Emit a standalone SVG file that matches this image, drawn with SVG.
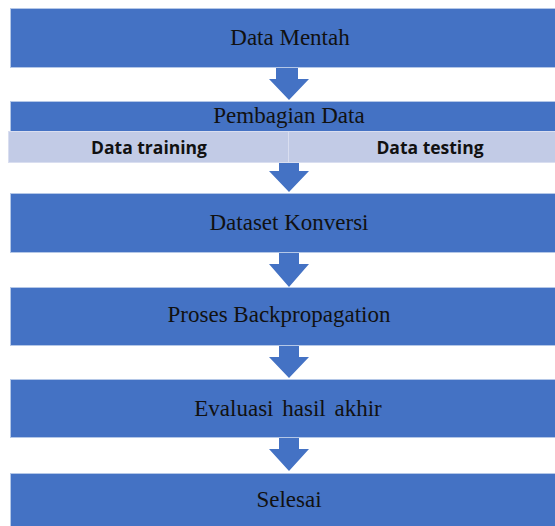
<svg xmlns="http://www.w3.org/2000/svg" width="555" height="526" viewBox="0 0 555 526">
<style>
.box{fill:#4472C4;stroke:#B4C7E7;stroke-width:1}
.sub{fill:#C2CBE6;stroke:#D9DEF0;stroke-width:1}
.t{font-family:"Liberation Serif",serif;font-size:23px;fill:#111;text-anchor:middle}
.b{font-family:"Open Sans","Liberation Sans",sans-serif;font-weight:bold;font-size:17.5px;fill:#111;text-anchor:middle}
.arr{fill:#4472C4}
</style>
<rect width="555" height="526" fill="#fff"/>
<g id="connectors">
<polygon class="arr" points="276,67 298,67 298,79 309,79 289,100 269,79 276,79"/>
<polygon class="arr" points="279,162 299,162 299,171 309,171 289,192 269,171 279,171"/>
<polygon class="arr" points="279,252 299,252 299,264 309,264 289,287 269,264 279,264"/>
<polygon class="arr" points="279,345 299,345 299,357 309,357 289,378 269,357 279,357"/>
<polygon class="arr" points="279,437 299,437 299,449 309,449 289,471 269,449 279,449"/>
</g>
<g id="n1"><rect class="box" x="10.5" y="8.5" width="546" height="59"/><text class="t" x="290" y="45">Data Mentah</text></g>
<g id="n2"><rect class="box" x="10.5" y="101.5" width="546" height="30"/><text class="t" x="289" y="123">Pembagian Data</text>
<rect class="sub" x="8.5" y="131.5" width="280" height="31"/><rect class="sub" x="288.5" y="131.5" width="268" height="31"/>
<text class="b" x="149" y="154">Data training</text><text class="b" x="430" y="154">Data testing</text></g>
<g id="n3"><rect class="box" x="10.5" y="193.5" width="546" height="59"/><text class="t" x="289" y="230">Dataset Konversi</text></g>
<g id="n4"><rect class="box" x="10.5" y="287.5" width="546" height="58"/><text class="t" x="279" y="322">Proses Backpropagation</text></g>
<g id="n5"><rect class="box" x="10.5" y="379.5" width="546" height="58"/><text class="t" x="288" y="416" word-spacing="3">Evaluasi hasil akhir</text></g>
<g id="n6"><rect class="box" x="10.5" y="473.5" width="546" height="60"/><text class="t" x="289" y="507">Selesai</text></g>
</svg>
